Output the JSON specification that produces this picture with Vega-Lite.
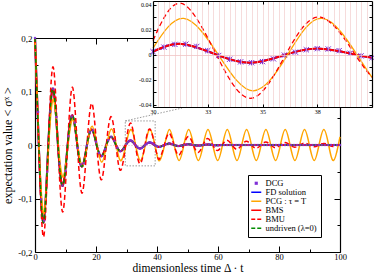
{
"$schema": "https://vega.github.io/schema/vega-lite/v6.json",
"width": 337, "height": 252,
"autosize": {"type": "none"},
"padding": {"left": 35, "top": 0, "right": 2, "bottom": 22},
"background": "white",
"config": {
 "view": {"stroke": null},
 "axis": {"grid": false, "labelFont": "Liberation Serif", "titleFont": "Liberation Serif", "labelColor": "#000", "titleColor": "#000", "domainColor": "#000", "tickColor": "#000", "titleFontWeight": "normal", "labelFontSize": 9, "domainWidth": 1.2, "tickWidth": 1, "labelFlush": false, "labelOverlap": false}
},
"datasets": {
 "common": [{"t":0,"v":0.2},{"t":1.25,"v":0},{"t":2.77,"v":-0.145},{"t":4.36,"v":0},{"t":5.94,"v":0.105},{"t":7.53,"v":0},{"t":9.11,"v":-0.0762},{"t":10.7,"v":0},{"t":12.28,"v":0.0553},{"t":13.87,"v":0},{"t":15.45,"v":-0.0401},{"t":17.04,"v":0},{"t":18.62,"v":0.0291},{"t":20.21,"v":0},{"t":21.79,"v":-0.0211},{"t":23.38,"v":0},{"t":24.96,"v":0.0153},{"t":26.55,"v":0},{"t":28.13,"v":-0.0115},{"t":29.72,"v":0},{"t":30,"v":0.0024},{"t":31.3,"v":0.0086},{"t":32.89,"v":0},{"t":34.47,"v":-0.0065},{"t":36.06,"v":0},{"t":37.64,"v":0.0048},{"t":39.23,"v":0},{"t":40,"v":-0.0025},{"t":40.81,"v":-0.0036},{"t":42.4,"v":0},{"t":43.98,"v":0.0027},{"t":45.57,"v":0},{"t":47.15,"v":-0.002},{"t":48.74,"v":0},{"t":50.32,"v":0.0015},{"t":51.91,"v":0},{"t":53.49,"v":-0.0011},{"t":55.08,"v":0},{"t":56.66,"v":0.0008},{"t":58.25,"v":0},{"t":59.83,"v":-0.0006},{"t":61.42,"v":0},{"t":70,"v":0},{"t":80,"v":0},{"t":90,"v":0},{"t":100,"v":0}],
 "pcg": [{"t":0,"v":0.2},{"t":1.3,"v":0},{"t":2.92,"v":-0.128},{"t":4.5,"v":0},{"t":6.08,"v":0.085},{"t":7.66,"v":0},{"t":9.25,"v":-0.06},{"t":10.83,"v":0},{"t":12.41,"v":0.048},{"t":13.99,"v":0},{"t":15.58,"v":-0.04},{"t":17.16,"v":0},{"t":18.74,"v":0.035},{"t":20.32,"v":0},{"t":21.91,"v":-0.032},{"t":23.49,"v":0},{"t":25.07,"v":0.03},{"t":26.65,"v":0},{"t":28.24,"v":-0.029},{"t":29.82,"v":0},{"t":30,"v":0.0052},{"t":31.4,"v":0.029},{"t":32.98,"v":0},{"t":34.57,"v":-0.029},{"t":36.15,"v":0},{"t":37.73,"v":0.029},{"t":39.31,"v":0},{"t":40,"v":-0.0183},{"t":40.9,"v":-0.029},{"t":42.48,"v":0},{"t":44.06,"v":0.029},{"t":45.64,"v":0},{"t":47.23,"v":-0.029},{"t":48.81,"v":0},{"t":50.39,"v":0.029},{"t":51.97,"v":0},{"t":53.56,"v":-0.029},{"t":55.14,"v":0},{"t":56.72,"v":0.029},{"t":58.3,"v":0},{"t":59.89,"v":-0.029},{"t":61.47,"v":0},{"t":63.05,"v":0.029},{"t":64.63,"v":0},{"t":66.22,"v":-0.029},{"t":67.8,"v":0},{"t":69.38,"v":0.029},{"t":70.96,"v":0},{"t":72.55,"v":-0.029},{"t":74.13,"v":0},{"t":75.71,"v":0.029},{"t":77.29,"v":0},{"t":78.88,"v":-0.029},{"t":80.46,"v":0},{"t":82.04,"v":0.029},{"t":83.62,"v":0},{"t":85.21,"v":-0.029},{"t":86.79,"v":0},{"t":88.37,"v":0.029},{"t":89.95,"v":0},{"t":91.54,"v":-0.029},{"t":93.12,"v":0},{"t":94.7,"v":0.029},{"t":96.28,"v":0},{"t":97.87,"v":-0.029},{"t":99.45,"v":0},{"t":100,"v":0.0151}],
 "bmu": [{"t":0,"v":0.2},{"t":1.2,"v":0},{"t":2.77,"v":-0.172},{"t":4.36,"v":0},{"t":5.94,"v":0.146},{"t":7.53,"v":0},{"t":9.11,"v":-0.125},{"t":10.7,"v":0},{"t":12.28,"v":0.108},{"t":13.87,"v":0},{"t":15.45,"v":-0.09},{"t":17.04,"v":0},{"t":18.62,"v":0.078},{"t":20.21,"v":0},{"t":21.79,"v":-0.065},{"t":23.38,"v":0},{"t":24.96,"v":0.053},{"t":26.55,"v":0},{"t":28.13,"v":-0.047},{"t":29.72,"v":0},{"t":30,"v":0.0113},{"t":31.3,"v":0.041},{"t":32.89,"v":0},{"t":34.47,"v":-0.035},{"t":36.06,"v":0},{"t":37.64,"v":0.03},{"t":39.23,"v":0},{"t":40,"v":-0.0181},{"t":40.81,"v":-0.026},{"t":42.4,"v":0},{"t":43.98,"v":0.022},{"t":45.57,"v":0},{"t":47.15,"v":-0.019},{"t":48.74,"v":0},{"t":50.32,"v":0.016},{"t":51.91,"v":0},{"t":53.49,"v":-0.014},{"t":55.08,"v":0},{"t":56.66,"v":0.012},{"t":58.25,"v":0},{"t":59.83,"v":-0.0105},{"t":61.42,"v":0},{"t":63.0,"v":0.009},{"t":64.59,"v":0},{"t":66.17,"v":-0.008},{"t":67.76,"v":0},{"t":69.34,"v":0.007},{"t":70.93,"v":0},{"t":72.51,"v":-0.006},{"t":74.1,"v":0},{"t":75.68,"v":0.0055},{"t":77.27,"v":0},{"t":78.85,"v":-0.005},{"t":80.44,"v":0},{"t":82.02,"v":0.0045},{"t":83.61,"v":0},{"t":85.19,"v":-0.004},{"t":86.78,"v":0},{"t":88.36,"v":0.0037},{"t":89.95,"v":0},{"t":91.53,"v":-0.0034},{"t":93.12,"v":0},{"t":94.7,"v":0.003},{"t":96.29,"v":0},{"t":97.87,"v":-0.0028},{"t":99.46,"v":0},{"t":100,"v":0.001}],
 "dcg": [{"t":0,"v":0.2},{"t":1,"v":0.0618},{"t":2,"v":-0.1015},{"t":3,"v":-0.1412},{"t":4,"v":-0.05},{"t":5,"v":0.0625},{"t":6,"v":0.1048},{"t":7,"v":0.0522},{"t":8,"v":-0.0346},{"t":9,"v":-0.0757},{"t":10,"v":-0.0485},{"t":11,"v":0.0165},{"t":12,"v":0.0532},{"t":13,"v":0.0418},{"t":14,"v":-0.0054},{"t":15,"v":-0.0362},{"t":16,"v":-0.0343},{"t":17,"v":-0.0014},{"t":18,"v":0.0237},{"t":19,"v":0.0271},{"t":20,"v":0.0059},{"t":21,"v":-0.0149},{"t":22,"v":-0.0206},{"t":23,"v":-0.0077},{"t":24,"v":0.0089},{"t":25,"v":0.0153},{"t":26,"v":0.0078},{"t":27,"v":-0.005},{"t":28,"v":-0.0114},{"t":29,"v":-0.0075},{"t":30,"v":0.0024},{"t":30.5,"v":0.006},{"t":31,"v":0.0082},{"t":31.5,"v":0.0084},{"t":32,"v":0.0066},{"t":32.5,"v":0.0032},{"t":33,"v":-0.0007},{"t":33.5,"v":-0.0037},{"t":34,"v":-0.0058},{"t":34.5,"v":-0.0065},{"t":35,"v":-0.0056},{"t":35.5,"v":-0.0034},{"t":36,"v":-0.0004},{"t":36.5,"v":0.002},{"t":37,"v":0.0039},{"t":37.5,"v":0.0048},{"t":38,"v":0.0045},{"t":38.5,"v":0.0032},{"t":39,"v":0.0011},{"t":39.5,"v":-0.001},{"t":40,"v":-0.0025},{"t":41,"v":-0.0035},{"t":42,"v":-0.0014},{"t":43,"v":0.0015},{"t":44,"v":0.0027},{"t":45,"v":0.0014},{"t":46,"v":-0.0008},{"t":47,"v":-0.002},{"t":48,"v":-0.0013},{"t":49,"v":0.0004},{"t":50,"v":0.0014},{"t":51,"v":0.0012},{"t":52,"v":-0.0001},{"t":53,"v":-0.001},{"t":54,"v":-0.001},{"t":55,"v":-0.0001},{"t":56,"v":0.0006},{"t":57,"v":0.0008},{"t":58,"v":0.0002},{"t":59,"v":-0.0004},{"t":60,"v":-0.0006},{"t":61,"v":0},{"t":62,"v":0},{"t":63,"v":0},{"t":64,"v":0},{"t":65,"v":0},{"t":66,"v":0},{"t":67,"v":0},{"t":68,"v":0},{"t":69,"v":0},{"t":70,"v":0},{"t":71,"v":0},{"t":72,"v":0},{"t":73,"v":0},{"t":74,"v":0},{"t":75,"v":0},{"t":76,"v":0},{"t":77,"v":0},{"t":78,"v":0},{"t":79,"v":0},{"t":80,"v":0},{"t":81,"v":0},{"t":82,"v":0},{"t":83,"v":0},{"t":84,"v":0},{"t":85,"v":0},{"t":86,"v":0},{"t":87,"v":0},{"t":88,"v":0},{"t":89,"v":0},{"t":90,"v":0},{"t":91,"v":0},{"t":92,"v":0},{"t":93,"v":0},{"t":94,"v":0},{"t":95,"v":0},{"t":96,"v":0},{"t":97,"v":0},{"t":98,"v":0},{"t":99,"v":0},{"t":100,"v":0}]
},
"layer": [
 {
  "layer": [
   {
    "data": {"values": [{}]},
    "mark": {"type": "rect", "fill": "transparent", "stroke": "#808080", "strokeWidth": 0.8, "strokeDash": [1.5, 1.5]},
    "encoding": {
     "x": {"datum": 29.6, "type": "quantitative", "scale": {"domain": [0, 100], "range": [0, 305], "nice": false, "zero": false},
           "axis": {"orient": "bottom", "values": [0, 20, 40, 60, 80, 100], "ticks": false, "domain": true, "labelFontSize": 8.5, "labelPadding": 0, "title": "dimensionless time Δ · t", "titleFontSize": 11.5, "titlePadding": 1.5, "zindex": 0}},
     "x2": {"datum": 39.4},
     "y": {"datum": -0.039, "type": "quantitative", "scale": {"domain": [-0.2, 0.2], "range": [252, 38], "nice": false, "zero": false},
           "axis": {"orient": "left", "values": [-0.2, -0.1, 0, 0.1, 0.2], "labelExpr": "datum.value == 0 ? '0' : (datum.value < 0 ? '-' : '') + replace(format(abs(datum.value), '.1f'), '.', ',')", "ticks": false, "domain": true, "labelPadding": 3, "title": "expectation value < σˣ >", "titleFontSize": 12, "titlePadding": 3, "zindex": 0}},
     "y2": {"datum": 0.045}
    }
   },
   {
    "data": {"values": [{}]},
    "mark": {"type": "rule", "stroke": "#808080", "strokeWidth": 0.8, "strokeDash": [1.5, 1.5]},
    "encoding": {
     "x": {"datum": 29.6, "type": "quantitative", "scale": {"domain": [0, 100], "range": [0, 305], "nice": false, "zero": false},
           "axis": {"orient": "bottom", "values": [0, 20, 40, 60, 80, 100], "labels": false, "domain": false, "tickSize": -6, "title": null, "zindex": 0}},
     "x2": {"datum": 48.2},
     "y": {"datum": 0.045, "type": "quantitative", "scale": {"domain": [-0.2, 0.2], "range": [252, 38], "nice": false, "zero": false},
           "axis": {"orient": "left", "values": [-0.2, -0.1, 0, 0.1, 0.2], "labels": false, "domain": false, "tickSize": -6, "title": null, "zindex": 0}},
     "y2": {"datum": 0.069}
    }
   },
   {
    "data": {"name": "common"},
    "mark": {"type": "line", "interpolate": "natural", "strokeWidth": 2},
    "encoding": {
     "x": {"field": "t", "type": "quantitative", "scale": {"domain": [0, 100], "range": [0, 305], "nice": false, "zero": false},
           "axis": {"orient": "bottom", "values": [10, 30, 50, 70, 90], "labels": false, "domain": false, "tickSize": -3, "title": null, "zindex": 0}},
     "y": {"field": "v", "type": "quantitative", "scale": {"domain": [-0.2, 0.2], "range": [252, 38], "nice": false, "zero": false},
           "axis": {"orient": "left", "values": [-0.15, -0.05, 0.05, 0.15], "labels": false, "domain": false, "tickSize": -3, "title": null, "zindex": 0}},
     "color": {"datum": "FD solution", "type": "nominal",
       "scale": {"domain": ["DCG", "FD solution", "PCG : τ = T", "BMS", "BMU", "undriven (λ=0)"], "range": ["#7f2fd6", "#0000ff", "#ffa500", "#ff0000", "#ff0000", "#008b00"]},
       "legend": {"orient": "none", "legendX": 213, "legendY": 175, "title": null, "fillColor": "white", "strokeColor": "#000", "padding": 4, "labelFont": "Liberation Serif", "labelFontSize": 8.5, "labelColor": "#000", "labelOffset": 5, "rowPadding": 0, "symbolType": "stroke", "symbolSize": 64, "symbolStrokeWidth": 1.5,
         "encode": {"symbols": {"update": {
           "shape": {"signal": "datum.value === 'DCG' ? 'square' : 'stroke'"},
           "size": {"signal": "datum.value === 'DCG' ? 10 : 100"},
           "fill": {"signal": "datum.value === 'DCG' ? '#7f2fd6' : 'transparent'"},
           "strokeWidth": {"signal": "datum.value === 'DCG' ? 0 : 1.5"},
           "strokeDash": {"signal": "(datum.value === 'BMU' || datum.value === 'undriven (λ=0)') ? [4, 2] : [1, 0]"}
         }}}}}
    }
   },
   {
    "data": {"name": "common"},
    "mark": {"type": "line", "interpolate": "natural", "strokeWidth": 2},
    "encoding": {
     "x": {"field": "t", "type": "quantitative", "scale": {"domain": [0, 100], "range": [0, 305], "nice": false, "zero": false},
           "axis": {"orient": "top", "offset": -38, "values": [0, 20, 40, 60, 80, 100], "labels": false, "domain": true, "tickSize": -6, "title": null, "zindex": 0}},
     "y": {"field": "v", "type": "quantitative", "scale": {"domain": [-0.2, 0.2], "range": [252, 38], "nice": false, "zero": false},
           "axis": {"orient": "right", "offset": -32, "values": [-0.2, -0.1, 0, 0.1, 0.2], "labels": false, "domain": true, "tickSize": -6, "title": null, "zindex": 0}},
     "color": {"datum": "BMS", "type": "nominal", "scale": {"domain": ["DCG", "FD solution", "PCG : τ = T", "BMS", "BMU", "undriven (λ=0)"], "range": ["#7f2fd6", "#0000ff", "#ffa500", "#ff0000", "#ff0000", "#008b00"]}}
    }
   },
   {
    "data": {"name": "pcg"},
    "mark": {"type": "line", "interpolate": "natural", "strokeWidth": 1.5},
    "encoding": {
     "x": {"field": "t", "type": "quantitative", "scale": {"domain": [0, 100], "range": [0, 305], "nice": false, "zero": false},
           "axis": {"orient": "top", "offset": -38, "values": [10, 30, 50, 70, 90], "labels": false, "domain": false, "tickSize": -3, "title": null, "zindex": 0}},
     "y": {"field": "v", "type": "quantitative", "scale": {"domain": [-0.2, 0.2], "range": [252, 38], "nice": false, "zero": false},
           "axis": {"orient": "right", "offset": -32, "values": [-0.15, -0.05, 0.05, 0.15], "labels": false, "domain": false, "tickSize": -3, "title": null, "zindex": 0}},
     "color": {"datum": "PCG : τ = T", "type": "nominal", "scale": {"domain": ["DCG", "FD solution", "PCG : τ = T", "BMS", "BMU", "undriven (λ=0)"], "range": ["#7f2fd6", "#0000ff", "#ffa500", "#ff0000", "#ff0000", "#008b00"]}}
    }
   },
   {
    "data": {"name": "bmu"},
    "mark": {"type": "line", "interpolate": "natural", "strokeWidth": 1.5, "strokeDash": [5, 3]},
    "encoding": {
     "x": {"field": "t", "type": "quantitative", "scale": {"domain": [0, 100], "range": [0, 305], "nice": false, "zero": false}, "axis": null},
     "y": {"field": "v", "type": "quantitative", "scale": {"domain": [-0.2, 0.2], "range": [252, 38], "nice": false, "zero": false},
           "axis": {"orient": "left", "values": [0], "grid": true, "gridColor": "#e9b4b4", "gridDash": [1, 2], "gridWidth": 1, "labels": false, "ticks": false, "domain": false, "title": null, "zindex": 0}},
     "color": {"datum": "BMU", "type": "nominal", "scale": {"domain": ["DCG", "FD solution", "PCG : τ = T", "BMS", "BMU", "undriven (λ=0)"], "range": ["#7f2fd6", "#0000ff", "#ffa500", "#ff0000", "#ff0000", "#008b00"]}}
    }
   },
   {
    "data": {"name": "common"},
    "mark": {"type": "line", "interpolate": "natural", "strokeWidth": 1.5, "strokeDash": [4, 3]},
    "encoding": {
     "x": {"field": "t", "type": "quantitative", "scale": {"domain": [0, 100], "range": [0, 305], "nice": false, "zero": false}, "axis": null},
     "y": {"field": "v", "type": "quantitative", "scale": {"domain": [-0.2, 0.2], "range": [252, 38], "nice": false, "zero": false}, "axis": null},
     "color": {"datum": "undriven (λ=0)", "type": "nominal", "scale": {"domain": ["DCG", "FD solution", "PCG : τ = T", "BMS", "BMU", "undriven (λ=0)"], "range": ["#7f2fd6", "#0000ff", "#ffa500", "#ff0000", "#ff0000", "#008b00"]}}
    }
   },
   {
    "data": {"name": "dcg"},
    "mark": {"type": "point", "shape": "square", "filled": true, "size": 5, "opacity": 0.9},
    "encoding": {
     "x": {"field": "t", "type": "quantitative", "scale": {"domain": [0, 100], "range": [0, 305], "nice": false, "zero": false}, "axis": null},
     "y": {"field": "v", "type": "quantitative", "scale": {"domain": [-0.2, 0.2], "range": [252, 38], "nice": false, "zero": false}, "axis": null},
     "color": {"datum": "DCG", "type": "nominal", "scale": {"domain": ["DCG", "FD solution", "PCG : τ = T", "BMS", "BMU", "undriven (λ=0)"], "range": ["#7f2fd6", "#0000ff", "#ffa500", "#ff0000", "#ff0000", "#008b00"]}}
    }
   }
  ],
  "resolve": {"axis": {"x": "independent", "y": "independent"}}
 },
 {
  "layer": [
   {
    "data": {"values": [{}]},
    "mark": {"type": "rect", "fill": "white", "stroke": null},
    "encoding": {
     "x": {"datum": 30, "type": "quantitative", "scale": {"domain": [30, 40], "range": [118, 337], "nice": false, "zero": false},
           "axis": {"orient": "bottom", "offset": -145, "values": [30, 32.5, 35, 37.5], "labelExpr": "format(datum.value, '.0f')", "labelFontSize": 6, "labelPadding": 1, "ticks": false, "domain": true, "title": null, "zindex": 1}},
     "x2": {"datum": 40},
     "y": {"datum": -0.042, "type": "quantitative", "scale": {"domain": [-0.042, 0.043], "range": [107, 1], "nice": false, "zero": false},
           "axis": {"orient": "left", "offset": -118, "values": [-0.04, -0.02, 0, 0.02, 0.04], "labelExpr": "datum.value == 0 ? '0' : (datum.value < 0 ? '-' : '') + format(abs(datum.value), '.2f')", "labelFontSize": 6, "labelPadding": 2, "ticks": false, "domain": true, "title": null, "zindex": 1}},
     "y2": {"datum": 0.043}
    }
   },
   {
    "data": {"name": "common"},
    "transform": [{"filter": "datum.t >= 30 && datum.t <= 40"}],
    "mark": {"type": "line", "interpolate": "natural", "strokeWidth": 2},
    "encoding": {
     "x": {"field": "t", "type": "quantitative", "scale": {"domain": [30, 40], "range": [118, 337], "nice": false, "zero": false},
           "axis": {"orient": "bottom", "offset": -145, "values": [30, 32.5, 35, 37.5, 40], "labels": false, "domain": false, "tickSize": -3, "title": null, "zindex": 1}},
     "y": {"field": "v", "type": "quantitative", "scale": {"domain": [-0.042, 0.043], "range": [107, 1], "nice": false, "zero": false},
           "axis": {"orient": "left", "offset": -118, "values": [-0.04, -0.03, -0.02, -0.01, 0, 0.01, 0.02, 0.03, 0.04], "labels": false, "domain": false, "tickSize": -3, "title": null, "zindex": 1}},
     "color": {"datum": "FD solution", "type": "nominal", "scale": {"domain": ["DCG", "FD solution", "PCG : τ = T", "BMS", "BMU", "undriven (λ=0)"], "range": ["#7f2fd6", "#0000ff", "#ffa500", "#ff0000", "#ff0000", "#008b00"]}}
    }
   },
   {
    "data": {"name": "common"},
    "transform": [{"filter": "datum.t >= 30 && datum.t <= 40"}],
    "mark": {"type": "line", "interpolate": "natural", "strokeWidth": 2},
    "encoding": {
     "x": {"field": "t", "type": "quantitative", "scale": {"domain": [30, 40], "range": [118, 337], "nice": false, "zero": false},
           "axis": {"orient": "top", "offset": -1, "values": [32.5, 35, 37.5], "labels": false, "domain": true, "tickSize": -3, "title": null, "zindex": 1}},
     "y": {"field": "v", "type": "quantitative", "scale": {"domain": [-0.042, 0.043], "range": [107, 1], "nice": false, "zero": false},
           "axis": {"orient": "right", "values": [-0.04, -0.03, -0.02, -0.01, 0, 0.01, 0.02, 0.03, 0.04], "labels": false, "domain": true, "tickSize": -3, "title": null, "zindex": 1}},
     "color": {"datum": "BMS", "type": "nominal", "scale": {"domain": ["DCG", "FD solution", "PCG : τ = T", "BMS", "BMU", "undriven (λ=0)"], "range": ["#7f2fd6", "#0000ff", "#ffa500", "#ff0000", "#ff0000", "#008b00"]}}
    }
   },
   {
    "data": {"name": "pcg"},
    "transform": [{"filter": "datum.t >= 30 && datum.t <= 40"}],
    "mark": {"type": "line", "interpolate": "natural", "strokeWidth": 1.3},
    "encoding": {
     "x": {"field": "t", "type": "quantitative", "scale": {"domain": [30, 40], "range": [118, 337], "nice": false, "zero": false},
           "axis": {"orient": "top", "values": [30, 30.25, 30.5, 30.75, 31, 31.25, 31.5, 31.75, 32, 32.25, 32.5, 32.75, 33, 33.25, 33.5, 33.75, 34, 34.25, 34.5, 34.75, 35, 35.25, 35.5, 35.75, 36, 36.25, 36.5, 36.75, 37, 37.25, 37.5, 37.75, 38, 38.25, 38.5, 38.75, 39, 39.25, 39.5, 39.75, 40], "grid": true, "gridColor": "#f0c4c4", "gridWidth": 0.6, "labels": false, "ticks": false, "domain": false, "title": null, "zindex": 1}},
     "y": {"field": "v", "type": "quantitative", "scale": {"domain": [-0.042, 0.043], "range": [107, 1], "nice": false, "zero": false},
           "axis": {"orient": "left", "values": [0], "grid": true, "gridColor": "#f0c4c4", "gridWidth": 0.8, "labels": false, "ticks": false, "domain": false, "title": null, "zindex": 1}},
     "color": {"datum": "PCG : τ = T", "type": "nominal", "scale": {"domain": ["DCG", "FD solution", "PCG : τ = T", "BMS", "BMU", "undriven (λ=0)"], "range": ["#7f2fd6", "#0000ff", "#ffa500", "#ff0000", "#ff0000", "#008b00"]}}
    }
   },
   {
    "data": {"name": "bmu"},
    "transform": [{"filter": "datum.t >= 30 && datum.t <= 40"}],
    "mark": {"type": "line", "interpolate": "natural", "strokeWidth": 1.3, "strokeDash": [5, 3]},
    "encoding": {
     "x": {"field": "t", "type": "quantitative", "scale": {"domain": [30, 40], "range": [118, 337], "nice": false, "zero": false}, "axis": null},
     "y": {"field": "v", "type": "quantitative", "scale": {"domain": [-0.042, 0.043], "range": [107, 1], "nice": false, "zero": false}, "axis": null},
     "color": {"datum": "BMU", "type": "nominal", "scale": {"domain": ["DCG", "FD solution", "PCG : τ = T", "BMS", "BMU", "undriven (λ=0)"], "range": ["#7f2fd6", "#0000ff", "#ffa500", "#ff0000", "#ff0000", "#008b00"]}}
    }
   },
   {
    "data": {"name": "dcg"},
    "transform": [{"filter": "datum.t >= 30 && datum.t <= 40"}],
    "mark": {"type": "point", "shape": "M-1,-1L1,1M-1,1L1,-1M0,-1L0,1", "filled": false, "size": 28, "strokeWidth": 1, "opacity": 1},
    "encoding": {
     "x": {"field": "t", "type": "quantitative", "scale": {"domain": [30, 40], "range": [118, 337], "nice": false, "zero": false}, "axis": null},
     "y": {"field": "v", "type": "quantitative", "scale": {"domain": [-0.042, 0.043], "range": [107, 1], "nice": false, "zero": false}, "axis": null},
     "color": {"datum": "DCG", "type": "nominal", "scale": {"domain": ["DCG", "FD solution", "PCG : τ = T", "BMS", "BMU", "undriven (λ=0)"], "range": ["#7f2fd6", "#0000ff", "#ffa500", "#ff0000", "#ff0000", "#008b00"]}}
    }
   }
  ],
  "resolve": {"axis": {"x": "independent", "y": "independent"}}
 }
],
"resolve": {"scale": {"x": "independent", "y": "independent"}}
}
